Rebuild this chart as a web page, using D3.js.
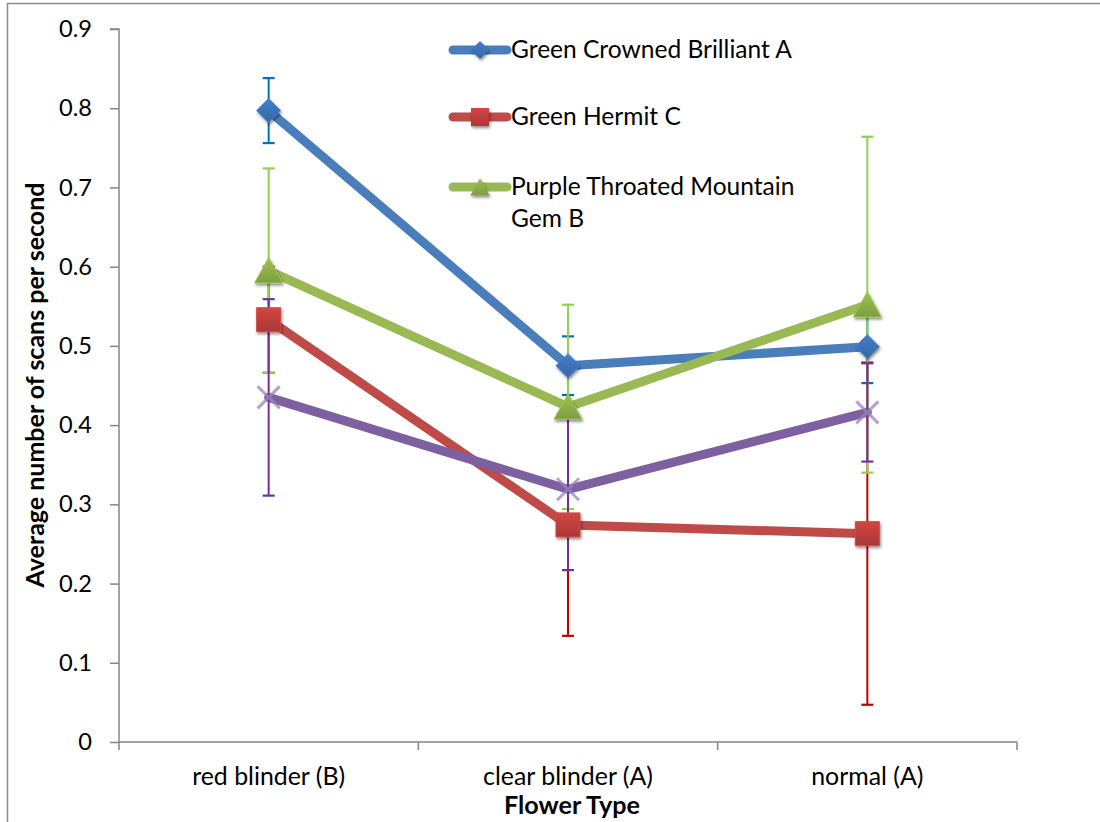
<!DOCTYPE html>
<html>
<head>
<meta charset="utf-8">
<script src="https://cdn.jsdelivr.net/npm/d3@7/dist/d3.min.js"></script>
<style>
  html, body { margin: 0; padding: 0; background: #fff; }
  svg { display: block; font-family: Lato, "Open Sans", sans-serif; }
</style>
</head>
<body>
<svg id="chart" width="1100" height="822"></svg>
<script>
const categories = ["red blinder (B)", "clear blinder (A)", "normal (A)"];
const seriesNames = ["Green Crowned Brilliant A", "Green Hermit C", "Purple Throated Mountain Gem B", ""];
const blueValues = [0.797, 0.475, 0.499];
const blueErrors = [0.041, 0.037, 0.046];
const redValues = [0.533, 0.274, 0.263];
const redErrors = [0.067, 0.140, 0.216];
const greenValues = [0.595, 0.423, 0.552];
const greenErrors = [0.129, 0.129, 0.212];
const purpleValues = [0.435, 0.319, 0.416];
const purpleErrors = [0.124, 0.102, 0.062];
const yTicks = [0, 0.1, 0.2, 0.3, 0.4, 0.5, 0.6, 0.7, 0.8, 0.9];
const xTitle = "Flower Type";
const yTitle = "Average number of scans per second";

const series = [
  {name: seriesNames[0], values: blueValues, errors: blueErrors, line: "#4a7ebb", err: "#0070c0", marker: "diamond", fill: "#3d74bb", legend: true},
  {name: seriesNames[1], values: redValues, errors: redErrors, line: "#be4b48", err: "#c00000", marker: "square", fill: "#c0403d", legend: true},
  {name: seriesNames[2], values: greenValues, errors: greenErrors, line: "#98b954", err: "#92d050", marker: "triangle", fill: "#8fb24a", legend: true},
  {name: seriesNames[3], values: purpleValues, errors: purpleErrors, line: "#7d60a0", err: "#7030a0", marker: "x", fill: "#9a84bb", legend: false}
];

const svg = d3.select("#chart");
const defs = svg.append("defs");
const shadow = defs.append("filter").attr("id", "shadow").attr("x", "-50%").attr("y", "-50%").attr("width", "200%").attr("height", "200%");
shadow.append("feGaussianBlur").attr("in", "SourceAlpha").attr("stdDeviation", 1.6).attr("result", "b");
shadow.append("feOffset").attr("in", "b").attr("dx", 1).attr("dy", 2).attr("result", "o");
shadow.append("feComponentTransfer").attr("in", "o").attr("result", "s").append("feFuncA").attr("type", "linear").attr("slope", 0.45);
const m = shadow.append("feMerge");
m.append("feMergeNode").attr("in", "s");
m.append("feMergeNode").attr("in", "SourceGraphic");

const soft = defs.append("filter").attr("id", "soft");
soft.append("feGaussianBlur").attr("stdDeviation", 0.7);

// frame
svg.append("path").attr("d", "M7.5,822 L7.5,3.5 L1100,3.5").attr("fill", "none").attr("stroke", "#8c8c8c").attr("stroke-width", 1.5);

const x = d3.scaleBand().domain(categories).range([119, 1017]);
const y = d3.scaleLinear().domain([0, 0.9]).range([742, 29]);
const cx = c => x(c) + x.bandwidth() / 2;

function fit(sel, target) {
  const w = sel.node().getComputedTextLength();
  const fs = parseFloat(sel.attr("font-size"));
  return fs * target / w;
}

// y axis
const yAxis = svg.append("g").attr("transform", "translate(119,0)")
  .call(d3.axisLeft(y).tickValues(yTicks).tickFormat(d => d === 0 ? "0" : d3.format(".1f")(d)).tickSize(9).tickPadding(18));
yAxis.select(".domain").attr("stroke", "#868686").attr("stroke-width", 1.5).attr("d", "M-9," + y(0.9) + "H0V" + y(0));
yAxis.selectAll(".tick line").attr("stroke", "#868686").attr("stroke-width", 1.5);
yAxis.selectAll(".tick text").attr("font-size", 21).attr("fill", "#000").attr("font-family", "Lato, sans-serif");

// x axis
const xAxis = svg.append("g").attr("transform", "translate(0,742)")
  .call(d3.axisBottom(x).tickSize(0).tickPadding(25));
xAxis.select(".domain").attr("stroke", "#868686").attr("stroke-width", 1.5).attr("d", "M119,0H1017");
xAxis.selectAll(".tick text").attr("font-size", 21).attr("fill", "#000").attr("font-family", "Lato, sans-serif");
const xBounds = [...categories.map(c => x(c)), 1017];
xAxis.selectAll(".bnd").data(xBounds).enter().append("line").attr("class", "bnd")
  .attr("x1", d => d).attr("x2", d => d).attr("y1", 0).attr("y2", 8)
  .attr("stroke", "#868686").attr("stroke-width", 1.5);

// fit category text size
{
  const t = xAxis.selectAll(".tick text").filter(d => d === categories[1]);
  const fs = fit(t, 170);
  xAxis.selectAll(".tick text").attr("font-size", fs);
  const tk = yAxis.selectAll(".tick text").filter(d => d === 0.9);
  const fs2 = fit(tk, 33);
  yAxis.selectAll(".tick text").attr("font-size", Math.min(fs2, fs * 1.05));
}

// axis titles
const xt = svg.append("text").attr("x", 572).attr("y", 814).attr("text-anchor", "middle")
  .attr("font-weight", "bold").attr("font-size", 20).text(xTitle);
xt.attr("font-size", fit(xt, 136));
const yt = svg.append("text").attr("transform", "translate(44,385) rotate(-90)").attr("text-anchor", "middle")
  .attr("font-weight", "bold").attr("font-size", 20).text(yTitle);
yt.attr("font-size", fit(yt, 405));

// lines
const line = d3.line().x((d, i) => cx(categories[i])).y(d => y(d));
svg.append("g").selectAll("path").data(series).enter().append("path")
  .attr("d", s => line(s.values)).attr("fill", "none").attr("stroke", s => s.line)
  .attr("stroke-width", 9).attr("stroke-linejoin", "round").attr("stroke-linecap", "round");

// error bars
const eg = svg.append("g");
series.forEach(s => {
  s.values.forEach((v, i) => {
    const px = cx(categories[i]);
    const top = y(v + s.errors[i]), bot = y(v - s.errors[i]);
    eg.append("line").attr("x1", px).attr("x2", px).attr("y1", top).attr("y2", bot).attr("stroke", s.err).attr("stroke-width", 2);
    [top, bot].forEach(yy => eg.append("line").attr("x1", px - 6).attr("x2", px + 6).attr("y1", yy).attr("y2", yy).attr("stroke", s.err).attr("stroke-width", 2.2));
  });
});

// markers
function markerPath(type, r) {
  if (type === "diamond") return `M0,${-r}L${r},0L0,${r}L${-r},0Z`;
  if (type === "square") return `M${-r},${-r}H${r}V${r}H${-r}Z`;
  if (type === "triangle") return `M0,${-r}L${r * 1.08},${r * 0.95}H${-r * 1.08}Z`;
  return `M${-r},${-r}L${r},${r}M${r},${-r}L${-r},${r}`;
}
const mg = svg.append("g");
series.forEach((s, si) => {
  const grad = defs.append("linearGradient").attr("id", "g" + si).attr("x1", 0).attr("y1", 0).attr("x2", 0).attr("y2", 1);
  grad.append("stop").attr("offset", "0%").attr("stop-color", d3.color(s.fill).brighter(0.25));
  grad.append("stop").attr("offset", "100%").attr("stop-color", d3.color(s.fill).darker(0.35));
  s.values.forEach((v, i) => {
    const g = mg.append("g").attr("transform", `translate(${cx(categories[i])},${y(v)})`);
    if (s.marker === "x") {
      g.append("path").attr("d", markerPath("x", 11)).attr("stroke", s.fill).attr("stroke-width", 3)
        .attr("stroke-opacity", 0.75).attr("fill", "none").attr("filter", "url(#soft)");
    } else {
      const r = s.marker === "diamond" ? 12 : s.marker === "square" ? 12 : 13;
      g.append("path").attr("d", markerPath(s.marker, r)).attr("fill", "url(#g" + si + ")")
        .attr("stroke", d3.color(s.fill).brighter(0.3)).attr("stroke-width", 1).attr("filter", "url(#shadow)");
    }
  });
});

// legend
const lg = svg.append("g");
const legendY = [50, 117, 187];
const legendSeries = series.filter(s => s.legend);
const lt = [];
legendSeries.forEach((s, i) => {
  const si = series.indexOf(s);
  const ly = legendY[i];
  lg.append("line").attr("x1", 453).attr("x2", 507).attr("y1", ly).attr("y2", ly)
    .attr("stroke", s.line).attr("stroke-width", 9).attr("stroke-linecap", "round");
  lg.append("path").attr("transform", `translate(480,${ly})`).attr("d", markerPath(s.marker, 9))
    .attr("fill", "url(#g" + si + ")").attr("filter", "url(#shadow)");
  const words = s.name === seriesNames[2] ? ["Purple Throated Mountain", "Gem B"] : [s.name];
  const t = lg.append("text").attr("x", 511).attr("y", ly + 8).attr("font-size", 21).attr("fill", "#000");
  words.forEach((w, k) => t.append("tspan").attr("x", 511).attr("dy", k === 0 ? 0 : 32).text(w));
  lt.push(t);
});
{
  const fs = fit(lt[0], 281);
  lt.forEach(t => t.attr("font-size", fs));
}
</script>
</body>
</html>
